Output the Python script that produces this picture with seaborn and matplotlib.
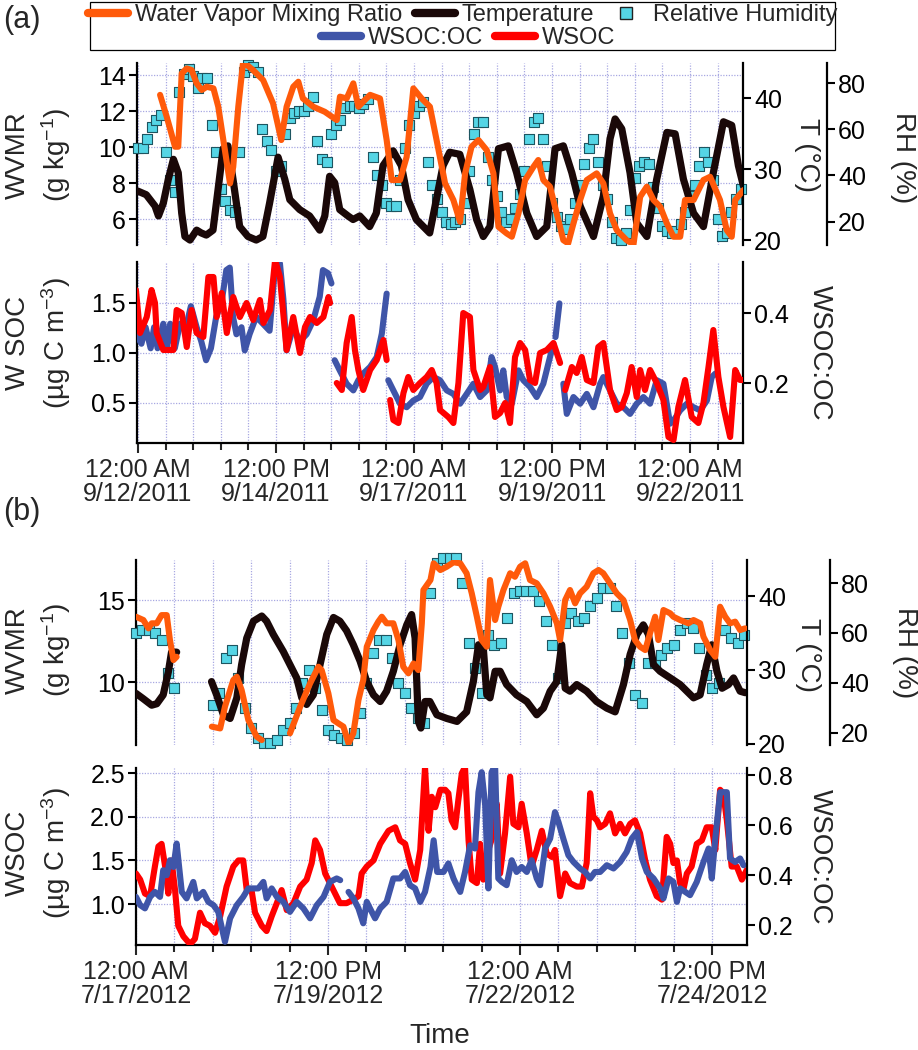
import numpy as np
import pandas as pd
import matplotlib
matplotlib.use("Agg")
import matplotlib.pyplot as plt
import matplotlib.dates as mdates
from matplotlib.lines import Line2D
from matplotlib.patches import Rectangle
import seaborn as sns

sns.set_theme(style="white")
plt.rcParams['font.family'] = ['Liberation Sans', 'DejaVu Sans']
plt.rcParams['mathtext.fontset'] = 'custom'
plt.rcParams['mathtext.rm'] = 'Liberation Sans'
plt.rcParams['mathtext.default'] = 'regular'

nan = np.nan

# ---------------- panel (a): hours after 9/12/2011 00:00 ----------------
A_START = pd.Timestamp("2011-09-12 00:00")

A_WVMR_H = [9.6, 12.5, 13.9, 16.1, 17.5, 19, 21.2, 23.3, 25.5, 27.7, 29.9, 32.8, 34.9, 37.1, 40, 41.4, 43.6, 45.7, 50, 54.4,
            58.7, 62.3, 64.6, 67.5, 69.7, 71.7, 76.2, 81.2, 86.4, 87.8, 90.7, 93.6, 95.8, 97.9, 100.9, 105.2, 108.1, 110.3, 113.9, 116.8,
            119.7, 123.3, 126.9, 129.8, 133.5, 137.1, 140, 142.2, 145, 148, 151.6, 154.5, 156.7, 160.3, 162.5, 165.4, 168.3, 171.9, 174, 176.2,
            179.1, 182, 184.9, 187, 189.3, 192.2, 195.1, 199.4, 202.3, 205.2, 208.1, 212.4, 215.4, 218.3, 221.2, 224.1, 227, 229.9, 232.8, 235.7,
            237.8, 241.5, 245.8, 248.7, 253, 255.9, 258.1, 259.6, 263.2]
A_WVMR = [12.9, 11.68, 11.04, 10.02, 10.02, 14.09, 14.37, 14.28, 13.54, 13.17, 13.35, 13.26, 12.24, 10.39, 7.98, 8.9, 12.24, 14.74, 14.28, 13.72,
          12.43, 10.39, 12.24, 13.35, 13.63, 12.7, 12.24, 11.96, 11.5, 12.8, 12.7, 13.54, 12.24, 12.52, 12.9, 12.7, 10.39, 8.17, 8.17, 9.46,
          13.26, 12.7, 12.24, 10.39, 7.98, 7.06, 5.85, 8.54, 10.02, 10.39, 9.83, 8.54, 5.57, 5.2, 5.02, 6.32, 8.17, 8.9, 9.28, 8.17,
          7.8, 6.32, 4.83, 4.65, 5.76, 7.06, 8.17, 8.54, 7.98, 6.32, 5.39, 4.83, 4.6, 7.24, 7.8, 7.06, 6.69, 5.76, 5.02, 5.02,
          7.06, 7.06, 8.17, 8.35, 7.06, 5.39, 5.02, 7.06, 7.61]

A_T_H = [0, 3.6, 7.4, 8.9, 11, 13.2, 15.4, 17.5, 19, 20.4, 22.6, 25.5, 27.5, 29.7, 32.6, 34.8, 37, 39.1, 41.3, 44.2,
         47.8, 51.4, 54.3, 57.2, 60.9, 63.8, 66, 70.3, 74.6, 79, 81.2, 83.3, 85.5, 87.7, 91.3, 93.5, 96.4, 100.7, 103.6, 106.5,
         110.9, 114.5, 117.4, 121, 126.8, 129.7, 132.6, 135.5, 139.9, 144.3, 147.2, 150.1, 153, 156.7, 161, 164.6, 169, 173.3, 177.7, 181.3,
         184.9, 188.6, 192.2, 198, 202.3, 205.2, 207.4, 210.3, 213.9, 216.8, 221.2, 225.5, 229.9, 233.5, 237.1, 241.5, 245.8, 250.1, 254.5, 258.1,
         261, 263.2]
A_T = [26.9, 26.4, 24.8, 23.4, 25.2, 28.6, 31.4, 29.5, 23.8, 20.5, 20.0, 21.4, 21.0, 20.7, 21.4, 27.1, 32.9, 33.3, 28.6, 21.9,
       20.5, 20.0, 20.5, 25.2, 31.7, 28.6, 25.7, 24.3, 23.4, 21.4, 23.4, 29.0, 28.1, 24.3, 23.4, 22.9, 23.4, 21.9, 23.8, 30.5,
       32.6, 30.5, 25.7, 22.9, 21.0, 25.7, 30.5, 32.4, 32.1, 27.1, 22.9, 20.5, 21.9, 32.9, 33.3, 29.5, 23.8, 20.5, 21.9, 32.9,
       33.3, 29.5, 24.8, 20.5, 26.2, 34.3, 37.1, 35.7, 29.5, 22.4, 20.5, 28.6, 35.2, 35.0, 28.6, 23.8, 21.9, 29.5, 36.7, 36.2,
       30.5, 27.6]

# relative humidity, one reading every 2 h from 0 h
A_RH = [52, 52, 56, 61, 64, 66, 50, 38, 33, 76, 84, 86, 83, 78, 82, 82, 62, 50, 34, 29,
        25, 24, 50, 85, 88, 87, 85, 60, 55, 51, 42, 44, 58, 65, 67, 68, 68, 70, 74, 55,
        47, 46, 58, 62, 64, 69, 70, 70, 69, 71, 73, 48, 40, 36, 28, 27, 27, 38, 52, 62,
        67, 70, 72, 46, 36, 30, 24, 20, 19, 20, 21, 28, 42, 58, 63, 63, 48, 38, 31, 24,
        20, 21, 26, 32, 42, 56, 63, 65, 56, 44, 28, 22, 18, 17, 21, 28, 36, 45, 52, 56,
        46, 36, 30, 20, 13, 12, 15, 25, 39, 44, 46, 45, 35, 26, 18, 16, 15, 16, 19, 24,
        31, 36, 44, 50, 46, 38, 21, 14, 15, 24, 30, 34]

A_WSOC_H = [-0.9, 0.9, 3.8, 5.9, 7.4, 8.1, 11, 12.5, 15.4, 16.8, 19, 21.2, 23.3, 25.5, 28.4, 30.6, 32.8, 34.2, 36.4, 38.6,
            41.4, 44.3, 47.2, 50.1, 53, 54.5, 57.4, 59.6, 61.7, 64.6, 67.5, 70.4, 72.6, 74.8, 77.7, 80.6, 82.8, 83.5, 85, 86.4,
            88.6, 90.7, 92.9, 94.3, 95.8, 97.9, 100.9, 103.8, 106.7, 108.1, 108.9, 109.6, 111, 113.2, 115.4, 117.5, 119.7, 122.6, 125.5, 127.7,
            129.8, 131.3, 134.9, 137.1, 139.3, 141.4, 144.3, 145.8, 148.7, 150.1, 153, 155.2, 157.4, 159.6, 161.7, 163.9, 166.1, 168.3, 170.4, 172.6,
            174.8, 177.7, 180.6, 183.5, 184.6, 185.7, 188.6, 190.7, 192.9, 195.1, 198, 200.1, 202.3, 205.2, 208.1, 210.3, 212.5, 214.6, 216.8, 218.3,
            220.4, 222.6, 225.5, 228.4, 230.6, 232.8, 234.9, 237.8, 240.7, 243.6, 245.8, 248, 250.1, 252.3, 254.5, 257.4, 259.6, 261.7, 263.2]
A_WSOC = [1.63, 1.2, 1.36, 1.63, 1.5, 1.2, 1.03, 1.03, 1.03, 1.43, 1.4, 1.06, 1.43, 1.2, 1.16, 1.76, 1.76, 1.36, 1.6, 1.2,
          1.56, 1.36, 1.5, 1.33, 1.53, 1.3, 1.43, 1.93, 1.76, 1.03, 1.36, 1.0, 1.26, 1.36, 1.3, 1.36, 1.56, 1.5, nan, 0.7,
          0.63, 1.1, 1.36, 1.03, 0.83, 0.63, 0.83, 0.93, 1.13, 0.93, nan, 0.53, 0.33, 0.3, 0.6, 0.76, 0.63, 0.7, 0.76, 0.83,
          0.7, 0.43, 0.36, 0.3, 0.7, 1.4, 1.36, 0.83, 0.63, 0.66, 0.86, 0.36, 0.4, 0.5, 0.3, 0.96, 1.1, 1.03, 0.73, 0.7,
          1.0, 1.03, 1.1, 0.9, nan, 0.63, 0.86, 0.8, 0.96, 0.73, 0.7, 1.06, 1.1, 0.63, 0.43, 0.46, 0.6, 0.86, 0.56, 0.83,
          0.63, 0.83, 0.7, 0.53, 0.16, 0.13, 0.46, 0.73, 0.36, 0.3, 0.5, 0.86, 1.23, 0.76, 0.46, 0.16, 0.83, 0.73, 0.73]

A_OC_H = [-0.9, 0, 1.5, 3.3, 5.5, 7, 8.5, 11, 12.6, 14, 16, 18.3, 20.5, 23, 25.5, 27.5, 29.6, 31.7, 34, 36.3,
          38.4, 39.9, 41.3, 42.8, 45, 46.4, 48.5, 51.4, 54.3, 57.2, 59.6, 61.7, 63.2, 64.6, 67.5, 70.4, 73.3, 76.2, 79, 80.4,
          82.6, 84.1, 84.8, 85.5, 87.7, 90.7, 93.6, 95.8, 97.9, 100.9, 103.8, 106, 108.1, 108.5, 108.8, 111, 113.9, 116.8, 119.7, 122.6,
          125.5, 128.4, 131.3, 134.2, 137.1, 140, 142.9, 145.8, 148.7, 151.6, 153.7, 155.2, 157.4, 158.8, 160.3, 162.5, 165.4, 167.5, 170.4, 173.3,
          176.2, 179.1, 180.6, 181, 181.5, 183.2, 184, 184.9, 186.4, 189.3, 192.2, 195.1, 198, 200.9, 202.3, 205.2, 208.1, 211, 213.9, 216.8,
          219.7, 222.6, 225.5, 228.4, 231.3, 232.8, 235.7, 238.6, 241.5, 244.4, 247.3, 249.4, 251]
A_OC = [0.428, 0.33, 0.313, 0.36, 0.3, 0.36, 0.3, 0.37, 0.3, 0.37, 0.3, 0.37, 0.35, 0.42, 0.36, 0.32, 0.266, 0.3, 0.39, 0.43,
        0.523, 0.53, 0.39, 0.34, 0.36, 0.294, 0.34, 0.39, 0.37, 0.35, 0.532, 0.542, 0.44, 0.294, 0.36, 0.32, 0.34, 0.38, 0.447, 0.523,
        0.514, 0.485, nan, 0.266, 0.237, 0.199, 0.18, 0.209, 0.228, 0.247, 0.275, 0.342, 0.456, nan, 0.209, 0.18, 0.142, 0.132, 0.151, 0.161,
        0.199, 0.218, 0.209, 0.18, 0.17, 0.142, 0.17, 0.199, 0.161, 0.18, 0.275, 0.247, 0.18, 0.237, 0.161, 0.142, 0.237, 0.209, 0.19, 0.161,
        0.199, 0.275, 0.313, nan, 0.332, 0.428, nan, 0.199, 0.113, 0.161, 0.142, 0.17, 0.132, 0.199, 0.218, 0.18, 0.142, 0.132, 0.113, 0.142,
        0.161, 0.142, 0.209, 0.199, 0.085, 0.094, 0.123, 0.142, 0.132, 0.123, 0.151, 0.218, 0.228]

A_TICKS = ["2011-09-12 00:00", "2011-09-14 12:00", "2011-09-17 00:00", "2011-09-19 12:00", "2011-09-22 00:00"]
A_TICKLABELS = ["12:00 AM\n9/12/2011", "12:00 PM\n9/14/2011", "12:00 AM\n9/17/2011", "12:00 PM\n9/19/2011", "12:00 AM\n9/22/2011"]

# ---------------- panel (b): hours after 7/17/2012 00:00 ----------------
B_START = pd.Timestamp("2012-07-17 00:00")

B_WVMR_H = [0, 2.3, 3.9, 4.9, 6.5, 8, 9.6, 10.6, 11.7, 12.7, 13, 23.7, 26.3, 27.8, 30.4, 31.5, 33, 35.1, 37.7, 39.3,
            40, 48.1, 51.3, 54.4, 57, 58, 60.1, 61.7, 63.2, 64.8, 66.4, 67.9, 69.5, 71, 72.1, 74.2, 75.7, 76.8, 78.3, 80.4,
            82, 83.5, 85.1, 86.7, 88.2, 89.3, 89.8, 92, 93, 95.1, 97.1, 99.2, 101.3, 103.3, 104.9, 106.5, 108, 109.6, 110.6, 112.2,
            113.2, 114.8, 116.9, 118.4, 120, 121.6, 123.1, 125.2, 127.3, 129.4, 131.5, 132.5, 134.1, 135.6, 137.2, 138.75, 140.8, 142.9, 144.5, 146,
            148.1, 150.2, 152.3, 154.4, 155.9, 157.5, 159.1, 160.6, 162.2, 163.2, 164.8, 166.9, 167.9, 170, 172.6, 174.2, 176.25, 177.3, 179.4, 181,
            182.5, 184.1, 185.6, 187.2, 188.75, 190.3]
B_WVMR = [13.98, 13.78, 13.27, 13.58, 13.58, 14.08, 14.08, 12.56, 11.34, 11.54, nan, 7.28, 7.17, 8.5, 10.12, 10.32, 9.51, 7.68, 6.67, 6.46,
          nan, 6.87, 8.5, 9.92, 10.93, 10.73, 9.31, 7.68, 7.48, 7.28, 6.26, 6.87, 8.9, 10.12, 12.15, 13.17, 13.68, 13.98, 13.58, 13.58,
          12.56, 10.93, 10.53, 11.13, 10.73, 13.58, 15.61, 16.22, 17.24, 16.83, 17.03, 17.3, 17.24, 16.63, 15.41, 13.98, 12.56, 12.15, 16.22, 13.78,
          14.59, 15.61, 16.63, 16.42, 17.03, 17.24, 16.22, 16.02, 15.41, 14.59, 13.58, 12.56, 15.0, 15.61, 14.8, 15.41, 15.81, 16.63, 16.83, 16.63,
          16.02, 15.41, 15.0, 13.78, 12.56, 12.15, 11.95, 12.97, 13.98, 12.56, 14.39, 14.19, 13.98, 13.78, 13.58, 13.78, 13.58, 12.76, 11.95, 11.54,
          14.59, 13.98, 13.58, 13.68, 13.17, 13.27]

B_T_H = [0, 2.2, 4.9, 6.5, 8.5, 10.1, 11.1, 12.7, 13, 23.6, 25.2, 27.3, 29.4, 31.5, 33, 34.6, 36.7, 39.3, 40.8, 42.9,
         46, 48.1, 50.2, 51.8, 53.3, 55.4, 57.5, 59.6, 61.7, 63.7, 65.8, 67.9, 70, 72.1, 74.2, 76.3, 78.3, 80.4, 82.5, 84.6,
         86.1, 87.2, 88.2, 89, 90.3, 91.8, 94, 97.1, 100.3, 103.3, 105.4, 107, 108.5, 109.6, 110.6, 112.2, 113.75, 115.8, 118.9, 122.1,
         125.2, 127.3, 129.4, 131.5, 133, 134.1, 135.6, 137.7, 140.8, 143.9, 147.1, 149.7, 152.3, 154.4, 156.5, 158.5, 160.1, 161.7, 163.75, 166.9,
         170, 172.1, 174.2, 176.25, 178.3, 179.9, 181.5, 183.1, 185.1, 186.7, 188.75, 190.3]
B_T = [26.8, 26.1, 25.2, 25.4, 26.6, 29.7, 32.4, 32.4, nan, 28.4, 26.6, 23.9, 23.4, 26.2, 30.7, 34.3, 36.6, 37.3, 36.6, 34.8,
       32.5, 30.7, 28.9, 26.2, 25.3, 26.6, 30.7, 34.8, 37.1, 36.6, 35.3, 33.4, 31.2, 28.4, 26.6, 25.7, 27.1, 29.8, 33.4, 36.1,
       37.5, 34.3, 23.0, 22.1, 25.7, 25.7, 23.9, 23.4, 23.0, 24.3, 28.4, 33.4, 33.0, 26.6, 26.2, 29.8, 29.8, 28.0, 26.6, 25.7,
       23.9, 24.8, 27.1, 28.4, 33.4, 27.5, 27.1, 28.0, 27.1, 25.7, 24.8, 24.3, 28.0, 32.1, 34.8, 36.1, 34.8, 30.7, 29.8, 28.9,
       28.0, 27.1, 26.2, 26.6, 30.7, 33.4, 29.8, 27.5, 28.0, 28.9, 27.1, 26.9]

# relative humidity, one reading every 2 h from 0 h
B_RH = [60, 61, 61, 60, 57, 44, 38, nan, nan, nan, nan, nan, 31, 36, 50, 53, 42, 30, 22, 18,
        16, 16, 17, 21, 24, 30, 40, 45, 38, 29, 21, 19, 18, 17, 20, 28, 40, 52, 57, 57,
        50, 40, 36, 30, 26, 24, 76, 88, 90, 90, 90, 80, 56, 46, 36, 59, 55, 56, 66, 76,
        77, 77, 77, 73, 65, 55, 42, 64, 68, 65, 66, 71, 74, 78, 78, 71, 60, 48, 35, 32,
        48, 48, 51, 54, 55, 61, 64, 62, 54, 43, 38, 40, 61, 58, 56, 59]

B_WSOC_H = [0, 1.3, 2.8, 4.4, 5.9, 7, 8, 9.1, 10.1, 11.1, 12.2, 13.2, 14.8, 16.9, 18.4, 20, 21.5, 23.1, 24.7, 26.3,
            28.3, 30.4, 32, 33.5, 34.6, 36.1, 37.2, 39.3, 40.8, 42.4, 44, 45.5, 47.1, 49.2, 51.3, 53.3, 54.9, 56, 57.5, 59.1,
            60.6, 62.2, 63.7, 65.8, 67.9, 69.5, 70.5, 72.1, 74.2, 76.3, 78.9, 81, 82.5, 84.1, 85.6, 87.2, 88.8, 90.3, 91.4, 92.4,
            93.5, 95.1, 96.6, 97.6, 98.6, 99.7, 100.7, 101.8, 102.8, 103.9, 104.9, 106.5, 107.5, 108.5, 110.1, 111.7, 112.7, 113.75, 115.3, 116.9,
            117.9, 119.5, 120.5, 122.1, 123.6, 125.2, 126.8, 128.3, 129.9, 130.9, 132.5, 134.1, 135.6, 137.7, 139.3, 140.8, 141.9, 142.9, 144, 145,
            146.6, 148.1, 149.7, 151.25, 152.8, 154.4, 155.9, 157.5, 159.1, 160.6, 162.7, 164.3, 165.8, 166.9, 167.9, 169, 170, 171, 172.1, 173.6,
            175.2, 176.8, 178.3, 179.9, 181, 182.5, 183.5, 184.6, 186.1, 187.7, 189.3, 190.8]
B_WSOC = [1.35, 1.28, 1.12, 1.09, 1.43, 1.66, 1.69, 1.43, 1.12, 1.5, 1.16, 0.75, 0.63, 0.54, 0.6, 0.9, 0.78, 0.75, 0.67, 0.86,
          1.2, 1.43, 1.5, 1.5, 1.16, 1.16, 0.9, 0.75, 0.69, 0.86, 1.01, 1.16, 0.93, 1.01, 1.2, 1.28, 1.47, 1.73, 1.62, 1.35,
          1.24, 1.12, 1.01, 1.01, 1.05, 1.09, 1.35, 1.43, 1.5, 1.69, 1.84, 1.88, 1.73, 1.69, 1.47, 1.28, 1.62, 2.57, 1.84, 2.23,
          2.11, 2.31, 2.31, 2.27, 1.96, 1.88, 2.19, 2.5, 2.57, 1.73, 1.28, 1.24, 1.69, 1.28, 1.62, 1.81, 2.15, 1.35, 1.81, 2.46,
          1.92, 1.88, 2.15, 1.81, 1.43, 1.62, 1.84, 1.58, 1.54, 1.62, 1.09, 1.35, 1.24, 1.2, 1.2, 1.47, 2.27, 2.0, 1.96, 1.88,
          1.92, 2.04, 1.81, 1.92, 1.81, 1.92, 1.96, 1.81, 1.5, 1.28, 1.09, 1.05, 1.77, 1.69, 1.47, 1.5, 1.24, 1.16, 1.35, 1.43,
          1.69, 1.73, 1.88, 1.88, 1.62, 2.31, 2.27, 1.96, 1.43, 1.43, 1.28, 1.39]

B_OC_H = [0, 1.3, 2.8, 4.4, 5.9, 7.5, 8.5, 9.6, 10.6, 11.7, 12.7, 14.3, 15.8, 17.9, 19, 21, 22.6, 24.2, 25.7, 27.8,
          29.4, 31.5, 33.5, 35.1, 36.7, 38.2, 39.8, 40.8, 42.4, 44, 46, 48.1, 50.2, 52.3, 54.4, 56.5, 58.6, 60.6, 62.7, 63.8,
          65, 66.4, 67.9, 69.5, 71, 72.1, 73.1, 74.7, 76.3, 78.3, 80.4, 82.5, 84.1, 85.6, 87.2, 88.8, 90.3, 92, 93, 94.1,
          96.1, 97.6, 99.2, 99.7, 101.3, 102.8, 104.4, 105.9, 107, 108, 109.1, 110.1, 111.1, 112.2, 113.2, 114.3, 115.8, 117.4, 118.9, 120.5,
          122.1, 123.6, 125.2, 126.25, 127.8, 129.4, 130.9, 132, 133.5, 135.1, 136.7, 138.75, 140.3, 141.9, 143.4, 145, 147.1, 149.2, 151.25, 153.3,
          154.9, 156.5, 158.1, 159.6, 161.7, 163.75, 164.8, 166.4, 167.9, 169, 170, 171.6, 173.1, 175.2, 177.3, 178.9, 179.9, 181, 182.5, 184.6,
          185.6, 187.2, 188.75, 189.8]
B_OC = [0.313, 0.28, 0.267, 0.313, 0.333, 0.313, 0.42, 0.4, 0.46, 0.433, 0.527, 0.333, 0.307, 0.373, 0.307, 0.333, 0.293, 0.28, 0.253, 0.133,
        0.227, 0.28, 0.313, 0.347, 0.347, 0.347, 0.373, 0.307, 0.347, 0.313, 0.293, 0.253, 0.293, 0.267, 0.227, 0.28, 0.313, 0.373, 0.387, 0.38,
        nan, 0.333, 0.307, 0.267, 0.207, 0.293, 0.267, 0.227, 0.267, 0.293, 0.387, 0.387, 0.413, 0.36, 0.347, 0.293, 0.333, 0.433, 0.54, 0.413,
        0.413, 0.447, 0.387, 0.373, 0.333, 0.413, 0.52, 0.507, 0.733, 0.813, 0.68, 0.347, 0.813, 0.84, 0.387, 0.373, 0.36, 0.46, 0.413, 0.433,
        0.413, 0.46, 0.387, 0.36, 0.507, 0.547, 0.653, 0.613, 0.547, 0.48, 0.453, 0.427, 0.413, 0.387, 0.413, 0.413, 0.44, 0.427, 0.453, 0.493,
        0.547, 0.573, 0.467, 0.413, 0.387, 0.347, 0.307, 0.387, 0.373, 0.293, 0.347, 0.333, 0.32, 0.373, 0.453, 0.507, 0.387, 0.547, 0.733, 0.733,
        0.467, 0.453, 0.467, 0.44]

B_TICKS = ["2012-07-17 00:00", "2012-07-19 12:00", "2012-07-22 00:00", "2012-07-24 12:00"]
B_TICKLABELS = ["12:00 AM\n7/17/2012", "12:00 PM\n7/19/2012", "12:00 AM\n7/22/2012", "12:00 PM\n7/24/2012"]

RH_STEP_H = 2

# ---------------- style ----------------
ORANGE = "#ff5a0a"
BLACK = "#1a0808"
CYAN = "#55d5e5"
CYAN_EDGE = "#1d5560"
BLUE = "#3f55a8"
RED = "#ff0000"
GRID = "#a8a8e2"
FS_TICK = 18
FS_LABEL = 20


def frame(start, hours, values):
    t = start + pd.to_timedelta(np.asarray(hours, dtype=float), unit="h")
    df = pd.DataFrame({"time": t, "value": np.asarray(values, dtype=float)})
    df["seg"] = df["value"].isna().cumsum()
    return df.dropna()


def draw_line(ax, start, hours, values, color, lw):
    sns.lineplot(data=frame(start, hours, values), x="time", y="value", units="seg",
                 estimator=None, sort=False, color=color, linewidth=lw, ax=ax,
                 legend=False, solid_joinstyle="round")
    ax.set_xlabel("")
    ax.set_ylabel("")


def draw_squares(ax, start, values):
    hours = [RH_STEP_H * i for i in range(len(values))]
    sns.scatterplot(data=frame(start, hours, values), x="time", y="value", marker="s", s=52,
                    color=CYAN, edgecolor=CYAN_EDGE, linewidth=0.8, ax=ax, legend=False,
                    clip_on=False)
    ax.set_xlabel("")
    ax.set_ylabel("")


def only_spine(ax, keep):
    for name, sp in ax.spines.items():
        sp.set_visible(name in keep)
        sp.set_linewidth(1.6)
        sp.set_color("black")


def style_y(ax, side):
    ax.tick_params(axis="y", which="major", direction="out", length=6, width=1.5,
                   labelsize=FS_TICK, pad=2, colors="black",
                   left=(side == "left"), right=(side == "right"),
                   labelleft=(side == "left"), labelright=(side == "right"))


def overlay(ax):
    ax.axis("off")


fig = plt.figure(figsize=(9.18, 10.5), dpi=100)


def build(start, xlim, rect_top, rect_bot, rh_pos, data, lims, ticks, ticklabels, red_on_top):
    (w_h, w_v, t_h, t_v, rh_v, ws_h, ws_v, oc_h, oc_v) = data
    (w_lim, w_ticks, t_lim, rh_lim, ws_lim, ws_ticks, oc_lim, oc_ticks) = lims

    # upper axes: WVMR (left), T and RH (right)
    ax = fig.add_axes(rect_top)
    ax_rh = ax.twinx()
    ax_t = ax.twinx()
    ax_w = ax.twinx()
    ax.set_xlim(start + pd.Timedelta(hours=xlim[0]), start + pd.Timedelta(hours=xlim[1]))

    draw_squares(ax_rh, start, rh_v)
    draw_line(ax_t, start, t_h, t_v, BLACK, 5.2)
    draw_line(ax_w, start, w_h, w_v, ORANGE, 4.4)

    ax.set_ylim(*w_lim)
    ax.set_yticks(w_ticks)
    ax_w.set_ylim(*w_lim)
    overlay(ax_w)
    ax_t.set_ylim(*t_lim)
    ax_t.set_yticks([20, 30, 40])
    ax_rh.set_ylim(*rh_lim)
    ax_rh.set_yticks([20, 40, 60, 80])
    ax_rh.spines["right"].set_position(("axes", rh_pos))

    only_spine(ax, ["left"])
    only_spine(ax_t, ["right"])
    only_spine(ax_rh, ["right"])
    style_y(ax, "left")
    style_y(ax_t, "right")
    style_y(ax_rh, "right")
    ax.tick_params(axis="x", which="both", length=0, labelbottom=False)

    # lower axes: WSOC (left), WSOC:OC (right)
    bx = fig.add_axes(rect_bot, sharex=ax)
    bx_oc = bx.twinx()
    bx_ws = bx.twinx()
    draw_line(bx_oc, start, oc_h, oc_v, BLUE, 4.4)
    draw_line(bx_ws, start, ws_h, ws_v, RED, 4.4)
    if not red_on_top:
        bx_oc.set_zorder(bx_ws.get_zorder() + 1)
    bx.set_ylim(*ws_lim)
    bx.set_yticks(ws_ticks)
    bx.yaxis.set_major_formatter(matplotlib.ticker.FormatStrFormatter("%.1f"))
    bx_ws.set_ylim(*ws_lim)
    overlay(bx_ws)
    bx_oc.set_ylim(*oc_lim)
    bx_oc.set_yticks(oc_ticks)
    bx_oc.yaxis.set_major_formatter(matplotlib.ticker.FormatStrFormatter("%.1f"))
    only_spine(bx, ["left", "bottom"])
    only_spine(bx_oc, ["right"])
    style_y(bx, "left")
    style_y(bx_oc, "right")

    bx.set_xticks([pd.Timestamp(s) for s in ticks])
    bx.set_xticklabels(ticklabels)
    bx.xaxis.set_minor_locator(mdates.HourLocator(byhour=[0, 12]))
    bx.tick_params(axis="x", which="major", direction="out", length=7, width=1.5,
                   labelsize=FS_TICK, pad=4, bottom=True)
    bx.tick_params(axis="x", which="minor", direction="out", length=5, width=1.5, bottom=True)
    for lab in bx.get_xticklabels():
        lab.set_linespacing(1.0)

    for a in (ax, bx):
        a.grid(True, which="major", axis="y", color=GRID, linestyle=(0, (1, 1.2)), linewidth=0.9)
        a.grid(True, which="both", axis="x", color=GRID, linestyle=(0, (1, 1.2)), linewidth=0.9)
    return ax, bx


build(A_START, (-0.43, 263.0),
      [137 / 918, 1 - 245 / 1050, 606 / 918, 182 / 1050],
      [137 / 918, 1 - 443 / 1050, 606 / 918, 181 / 1050],
      1 + 84 / 606,
      (A_WVMR_H, A_WVMR, A_T_H, A_T, A_RH, A_WSOC_H, A_WSOC, A_OC_H, A_OC),
      ((4.56, 14.67), [6, 8, 10, 12, 14], (19.3, 45.0), (9.9, 88.7),
       (0.1, 1.91), [0.5, 1.0, 1.5], (0.03, 0.546), [0.2, 0.4]),
      A_TICKS, A_TICKLABELS, True)

build(B_START, (0.0, 190.9),
      [136 / 918, 1 - 745 / 1050, 611 / 918, 185 / 1050],
      [136 / 918, 1 - 945 / 1050, 611 / 918, 177 / 1050],
      1 + 83 / 611,
      (B_WVMR_H, B_WVMR, B_T_H, B_T, B_RH, B_WSOC_H, B_WSOC, B_OC_H, B_OC),
      ((6.16, 17.44), [10, 15], (19.8, 44.9), (15.0, 89.3),
       (0.53, 2.56), [1.0, 1.5, 2.0, 2.5], (0.12, 0.83), [0.2, 0.4, 0.6, 0.8]),
      B_TICKS, B_TICKLABELS, False)


# axis titles
def ftext(x, y, s, rot, **kw):
    fig.text(x / 918, 1 - y / 1050, s, rotation=rot, ha="center", va="center",
             fontsize=FS_LABEL, **kw)


ftext(39, 155, "WVMR\n(g kg$^{-1}$)", 90, linespacing=1.3)
ftext(807, 155, "T (°C)", -90)
ftext(903, 158, "RH (%)", -90)
ftext(39, 343, "W SOC\n(µg C m$^{-3}$)", 90, linespacing=1.3)
ftext(820, 353, "WSOC:OC", -90)
ftext(39, 650, "WVMR\n(g kg$^{-1}$)", 90, linespacing=1.3)
ftext(808, 655, "T (°C)", -90)
ftext(905, 653, "RH (%)", -90)
ftext(39, 853, "WSOC\n(µg C m$^{-3}$)", 90, linespacing=1.3)
ftext(820, 857, "WSOC:OC", -90)
ftext(440, 1036, "Time", 0)
fig.text(3 / 918, 1 - 20 / 1050, "(a)", fontsize=22, ha="left", va="center")
fig.text(3 / 918, 1 - 512 / 1050, "(b)", fontsize=22, ha="left", va="center")

# legend, two centred rows inside one frame
h_w = Line2D([], [], color=ORANGE, lw=6)
h_t = Line2D([], [], color=BLACK, lw=6)
h_rh = Line2D([], [], marker="s", ls="", mfc=CYAN, mec="#222222", ms=8, mew=1.0)
h_oc = Line2D([], [], color=BLUE, lw=6)
h_ws = Line2D([], [], color=RED, lw=6)
leg_kw = dict(loc="center", frameon=False, fontsize=17, handlelength=1.7,
              handletextpad=0.3, columnspacing=0.5, borderaxespad=0, borderpad=0)
fig.legend([h_w, h_t, h_rh], ["Water Vapor Mixing Ratio", "Temperature", "Relative Humidity"],
           ncol=3, bbox_to_anchor=(463 / 918, 1 - 15 / 1050), **leg_kw)
fig.legend([h_oc, h_ws], ["WSOC:OC", "WSOC"], ncol=2,
           bbox_to_anchor=(468 / 918, 1 - 38 / 1050), **leg_kw)
fig.add_artist(Rectangle((90 / 918, 1 - 50 / 1050), 745 / 918, 48 / 1050,
                         transform=fig.transFigure, fill=False, lw=0.9, ec="black"))

fig.savefig("out.png", dpi=100)
